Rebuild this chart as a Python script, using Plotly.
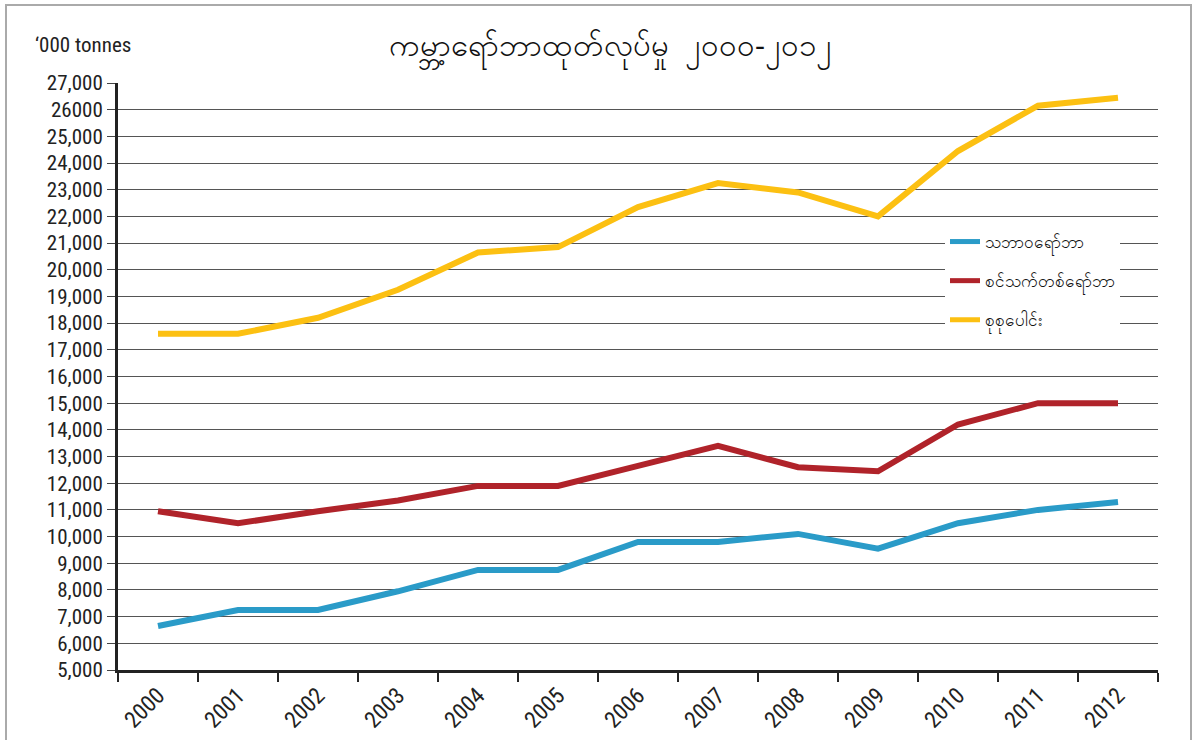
import plotly.graph_objects as go

years = ["2000", "2001", "2002", "2003", "2004", "2005", "2006", "2007", "2008", "2009", "2010", "2011", "2012"]
natural = [6650, 7250, 7250, 7950, 8750, 8750, 9800, 9800, 10100, 9550, 10500, 11000, 11300]
synthetic = [10950, 10500, 10950, 11350, 11900, 11900, 12650, 13400, 12600, 12450, 14200, 15000, 15000]
total = [17600, 17600, 18200, 19250, 20650, 20850, 22350, 23250, 22900, 22000, 24450, 26150, 26450]

series_names = ["သဘာဝရော်ဘာ", "စင်သက်တစ်ရော်ဘာ", "စုစုပေါင်း"]
colors = ["#2A9BC8", "#B0232A", "#FCC012"]

y_ticks = list(range(5000, 27001, 1000))
y_labels = ["26000" if v == 26000 else f"{v:,}" for v in y_ticks]

title_text = "ကမ္ဘာ့ရော်ဘာထုတ်လုပ်မှု  ၂၀၀၀-၂၀၁၂"
unit_text = "‘000 tonnes"

W, H = 1197, 740
L, R, T, B = 118, 39, 83, 70
pw, ph = W - L - R, H - T - B

def px_x(x):
    return (x - L) / pw

def px_y(y):
    return (H - B - y) / ph

fig = go.Figure()
for i, (name, vals, c) in enumerate(zip(series_names, [natural, synthetic, total], colors)):
    fig.add_trace(go.Scatter(x=years, y=vals, mode="lines", name=name, legendgroup=f"g{i}",
                             line=dict(color=c, width=6), hoverinfo="x+y"))

font_num = "Roboto Condensed, Liberation Sans Narrow, Arial Narrow, Liberation Sans, sans-serif"
fig.update_layout(
    width=W, height=H,
    margin=dict(l=L, r=R, t=T, b=B, autoexpand=False),
    paper_bgcolor="white", plot_bgcolor="white",
    showlegend=True,
    legend=dict(x=px_x(945), y=px_y(224), xanchor="left", yanchor="top",
                bgcolor="white", font=dict(size=17, color="#111"),
                itemwidth=30, tracegroupgap=14, itemsizing="constant"),
    xaxis=dict(type="category", tickson="boundaries", ticks="outside", ticklen=9,
               tickwidth=2, tickcolor="#222", showline=True, linecolor="#222", linewidth=3,
               showgrid=False, tickangle=-45, range=[-0.5, 12.5], automargin=False,
               tickfont=dict(family=font_num, size=23, color="#222", weight=400)),
    yaxis=dict(range=[5000, 27000], tickvals=y_ticks, ticktext=y_labels,
               ticks="outside", ticklen=8, tickcolor="#444", tickwidth=1,
               showline=True, linecolor="#222", linewidth=3, automargin=False,
               showgrid=True, gridcolor="#555", gridwidth=1, zeroline=False,
               tickfont=dict(family=font_num, size=21, color="#222", weight=400)),
    shapes=[dict(type="rect", xref="paper", yref="paper",
                 x0=px_x(6), x1=px_x(1191), y0=px_y(800), y1=px_y(5),
                 line=dict(color="#aaa", width=2), fillcolor="rgba(0,0,0,0)", layer="below")],
    annotations=[
        dict(text=unit_text, xref="paper", yref="paper", x=px_x(33), y=px_y(45),
             xanchor="left", yanchor="middle", showarrow=False,
             font=dict(family=font_num, size=21, color="#222", weight=400)),
        dict(text=title_text, xref="paper", yref="paper", x=px_x(610), y=px_y(46),
             xanchor="center", yanchor="middle", showarrow=False,
             font=dict(size=31, color="#111")),
    ],
)

fig.write_html("out.html", config={"displayModeBar": False},
               post_script="document.body.style.margin='0';document.body.style.padding='0';")
